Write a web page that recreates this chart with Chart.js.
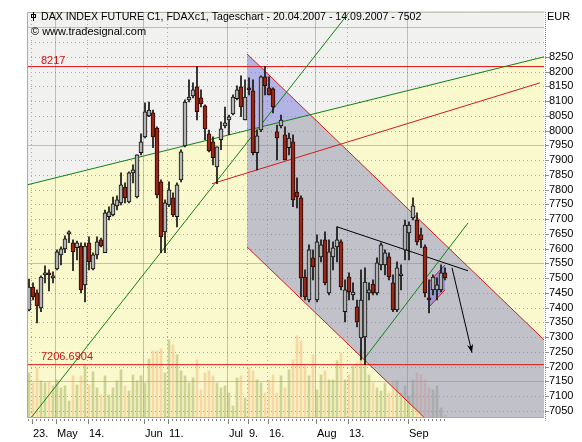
<!DOCTYPE html>
<html>
<head>
<meta charset="utf-8">
<script src="https://cdn.jsdelivr.net/npm/chart.js@4.4.0/dist/chart.umd.min.js"></script>
<style>
  html, body { margin: 0; padding: 0; background: #fff; }
  #wrap { width: 582px; height: 442px; }
</style>
</head>
<body>
<div id="wrap"><canvas id="chart" width="582" height="442"></canvas></div>
<script>
// FDAX daily, 20.04.2007 - 14.09.2007, one entry per trading day (index 0 = 20.04.)
const opens = [7392,7470,7450,7399,7511,7518,7501,7531,7579,7599, 7650,7620,7603,7609,7477,7620,7531,7579,7630,7586,
  7708,7714,7745,7755,7809,7758,7857,7775,7925,7979, 8050,8060,8009,7826,7657,7748,7772,7708,7833,7948,
  8104,8118,8148,8111,8084,7989,7962,7877,7969,8016, 8036,8057,8108,8148,8036,8145,8135,7925,8002,8182,
  8145,8142,7996,8016,7986,7942,7962,7792,7772,7504, 7426,7569,7426,7572,7630,7450,7572,7606,7623,7386,
  7504,7443,7403,7297,7301,7450,7480,7450,7545,7545, 7572,7484,7392,7508,7596,7653,7704,7697,7647,7606,
  7433,7460,7460,7460,7518];
const highs = [7497,7484,7460,7508,7542,7528,7521,7596,7606,7643, 7660,7630,7626,7620,7620,7640,7586,7640,7636,7731,
  7742,7775,7779,7857,7823,7860,7884,7918,7989,8094, 8097,8070,8013,7833,7765,7826,7789,7823,7935,8104,
  8172,8162,8217,8138,8087,8002,7979,7945,8030,8080, 8053,8121,8152,8186,8172,8179,8172,8002,8186,8217,
  8182,8145,8019,8053,8013,7992,7986,7840,7779,7528, 7613,7596,7647,7630,7657,7630,7623,7674,7630,7494,
  7518,7484,7426,7528,7535,7484,7494,7569,7620,7596, 7586,7511,7555,7545,7697,7691,7772,7721,7670,7613,
  7494,7511,7501,7545,7535];
const lows = [7389,7426,7348,7386,7484,7457,7484,7528,7545,7586, 7620,7525,7562,7450,7419,7528,7528,7565,7606,7586,
  7697,7711,7731,7748,7755,7755,7823,7772,7918,7975, 8047,7942,7772,7586,7586,7742,7708,7674,7826,7945,
  8097,8111,8036,8080,7969,7928,7884,7820,7935,8009, 7986,8053,8104,8047,8036,8121,7918,7867,7996,8121,
  8121,8060,7901,8009,7901,7918,7742,7738,7436,7426, 7419,7494,7419,7555,7477,7443,7528,7555,7460,7352,
  7426,7426,7335,7223,7207,7426,7443,7443,7528,7511, 7494,7386,7386,7460,7562,7562,7697,7613,7603,7436,
  7382,7443,7426,7453,7494];
const closes = [7470,7436,7406,7504,7518,7511,7508,7589,7599,7633, 7657,7589,7620,7460,7609,7555,7579,7623,7609,7721,
  7725,7752,7765,7816,7772,7857,7867,7918,7962,8064, 8070,7979,7782,7640,7755,7799,7714,7816,7928,8097,
  8114,8138,8064,8091,8006,7931,7908,7945,8006,8026, 8047,8114,8138,8080,8114,8138,7925,7982,8182,8152,
  8121,8080,7975,8036,7901,7975,7765,7775,7501,7436, 7596,7538,7623,7613,7484,7589,7603,7630,7470,7460,
  7453,7453,7352,7426,7487,7460,7450,7552,7613,7586, 7504,7392,7535,7514,7680,7680,7745,7623,7630,7450,
  7426,7504,7477,7518,7502];
// volume, thousand contracts
const volumes = [180,140,200,148,140,144,128,152,120,128, 68,168,132,168,212,132,184,120,92,168,
  92,120,148,192,128,108,172,148,168,140, 236,268,268,276,180,312,292,252,188,168,
  140,160,232,112,180,188,168,140,120,128, 100,48,160,168,80,200,188,152,140,100,
  152,172,100,168,120,192,232,328,308,208, 168,252,112,172,188,152,152,228,260,152,
  172,208,220,272,228,172,140,120,108,140, 100,148,148,100,128,88,152,180,172,152,
  120,112,128,40,12];

const xTickIdx = [1, 7, 15, 29, 35, 50, 55, 60, 72, 80, 95];
const xTickLabels = ["23.", "May", "14.", "Jun", "11.", "Jul", "9.", "16.", "Aug", "13.", "Sep"];
const yTicks = [7050,7100,7150,7200,7250,7300,7350,7400,7450,7500,7550,7600,7650,7700,
  7750,7800,7850,7900,7950,8000,8050,8100,8150,8200,8250];
const gridLevels = [7050,7100,7150,7200,7250,7300,7350,7400,7450,7500,7550,7600,7650,7700,
  7750,7800,7850,7900,7950,8000,8050,8100,8150,8200,8250,8300,8350];
const solidLevels = [7150, 7550, 7950, 8350];

// drawing tools: [trading day index, price]
const supportLong = [[-0.5, 7816], [128.75, 8250]];
const supportSteep = [[0.47, 7026], [80.1, 8402]];
const supportAug = [[84, 7230], [109.75, 7687]];
const resistRise = [[45.75, 7820], [127.75, 8162]];
const level8217 = 8217;
const level7206 = 7206.6904;
const channelTop = [[54.5, 8260], [128.75, 7291]];
const channelLow = [[54.5, 7606], [128.75, 6637]];
const topTriangle = [[54.5, 8260], [70.3, 8054], [54.5, 8001]];
const neckline = [[77, 7674], [109.75, 7525]];
const flagTop = [[100, 7487], [104, 7545]];
const flagLow = [[100, 7402], [104, 7460]];
const arrow = [[105.75, 7535], [110.75, 7247]];

const titleText = "DAX INDEX FUTURE C1, FDAXc1, Tageschart - 20.04.2007 - 14.09.2007 - 7502";
const FONT = "Liberation Sans";
const X_MIN = -0.5, X_MAX = 128.75;

const pts = arr => arr.map(([x, y]) => ({ x, y }));

function lineSet(data, color, order) {
  return {
    type: "line", data: pts(data), borderColor: color, borderWidth: 1,
    pointRadius: 0, fill: false, tension: 0, order, xAxisID: "x", yAxisID: "y"
  };
}

function shapeSet(data, color, order) {
  return {
    type: "line", data: pts(data), borderWidth: 0, borderColor: "rgba(0,0,0,0)",
    backgroundColor: color, pointRadius: 0, fill: "shape", tension: 0, order,
    xAxisID: "x", yAxisID: "y"
  };
}

const days = closes.map((c, i) => i);
const isUp = i => closes[i] >= opens[i];

const overlay = {
  id: "overlay",
  beforeDatasetsDraw(chart) {
    const { ctx, chartArea: a, scales: { x, y } } = chart;
    ctx.save();
    ctx.beginPath();
    ctx.rect(a.left, a.top, a.width, a.height);
    ctx.clip();

    // light grey above the long support line, pale yellow below it
    ctx.fillStyle = "#f1f1f0";
    ctx.fillRect(a.left, a.top, a.width, a.height);
    const x0 = x.getPixelForValue(supportLong[0][0]), y0 = y.getPixelForValue(supportLong[0][1]);
    const x1 = x.getPixelForValue(supportLong[1][0]), y1 = y.getPixelForValue(supportLong[1][1]);
    ctx.beginPath();
    ctx.moveTo(x0, y0);
    ctx.lineTo(x1, y1);
    ctx.lineTo(x1, a.bottom);
    ctx.lineTo(x0, a.bottom);
    ctx.closePath();
    ctx.fillStyle = "#f9f9cd";
    ctx.fill();

    // grid
    ctx.lineWidth = 1;
    gridLevels.forEach(v => {
      const py = Math.round(y.getPixelForValue(v)) + 0.5;
      const solid = solidLevels.includes(v);
      ctx.setLineDash(solid ? [] : [1, 3]);
      ctx.strokeStyle = solid ? "rgba(110,120,80,0.4)" : "#a8a8a8";
      ctx.beginPath();
      ctx.moveTo(a.left, py);
      ctx.lineTo(a.right, py);
      ctx.stroke();
    });
    xTickIdx.forEach((d, k) => {
      const px = Math.round(x.getPixelForValue(d)) - 1.5;
      const solid = /^[A-Z]/.test(xTickLabels[k]);
      ctx.setLineDash(solid ? [] : [1, 3]);
      ctx.strokeStyle = solid ? "rgba(110,120,80,0.4)" : "#a8a8a8";
      ctx.beginPath();
      ctx.moveTo(px, a.top);
      ctx.lineTo(px, a.bottom);
      ctx.stroke();
    });
    ctx.restore();
  },
  afterDatasetsDraw(chart) {
    const { ctx, chartArea: a, scales: { x, y } } = chart;
    ctx.save();
    // arrow head
    const ax0 = x.getPixelForValue(arrow[0][0]), ay0 = y.getPixelForValue(arrow[0][1]);
    const ax1 = x.getPixelForValue(arrow[1][0]), ay1 = y.getPixelForValue(arrow[1][1]);
    const ang = Math.atan2(ay1 - ay0, ax1 - ax0);
    ctx.fillStyle = "#000";
    ctx.beginPath();
    ctx.moveTo(ax1, ay1);
    ctx.lineTo(ax1 - 9 * Math.cos(ang - 0.35), ay1 - 9 * Math.sin(ang - 0.35));
    ctx.lineTo(ax1 - 6 * Math.cos(ang), ay1 - 6 * Math.sin(ang));
    ctx.lineTo(ax1 - 9 * Math.cos(ang + 0.35), ay1 - 9 * Math.sin(ang + 0.35));
    ctx.closePath();
    ctx.fill();

    // frame
    ctx.strokeStyle = "#a9ada0";
    ctx.lineWidth = 1;
    ctx.beginPath();
    ctx.moveTo(Math.round(a.right) + 0.5, a.top);
    ctx.lineTo(a.left + 0.5, a.top + 0.5);
    ctx.lineTo(a.left + 0.5, a.bottom - 0.5);
    ctx.lineTo(a.right, a.bottom - 0.5);
    ctx.stroke();

    // price axis: dotted spine and small ticks
    ctx.strokeStyle = "#8a8a8a";
    ctx.setLineDash([1, 1]);
    ctx.beginPath();
    ctx.moveTo(Math.round(a.right) + 1.5, a.top);
    ctx.lineTo(Math.round(a.right) + 1.5, a.bottom + 4);
    ctx.stroke();
    ctx.setLineDash([]);
    yTicks.forEach(v => {
      const py = Math.round(y.getPixelForValue(v)) + 0.5;
      ctx.beginPath();
      ctx.moveTo(a.right + 1, py);
      ctx.lineTo(a.right + 5, py);
      ctx.stroke();
    });

    // time axis ticks
    ctx.strokeStyle = "#808080";
    days.forEach(d => {
      const px = Math.round(x.getPixelForValue(d)) - 0.5;
      const major = xTickIdx.includes(d);
      ctx.beginPath();
      ctx.moveTo(px, a.bottom + 1);
      ctx.lineTo(px, a.bottom + (major ? 6 : 3));
      ctx.stroke();
    });

    // level labels
    ctx.fillStyle = "#d21414";
    ctx.font = "11px '" + FONT + "'";
    ctx.textBaseline = "middle";
    ctx.textAlign = "left";
    ctx.fillText(String(level8217), a.left + 14, y.getPixelForValue(level8217) - 6);
    ctx.fillText(level7206.toFixed(4), a.left + 14, y.getPixelForValue(level7206) - 8);

    // title block
    ctx.fillStyle = "#000";
    ctx.font = "10.6px '" + FONT + "'";
    ctx.fillText(titleText, a.left + 14, a.top + 5);
    ctx.font = "11px '" + FONT + "'";
    ctx.fillText("\u00a9 www.tradesignal.com", a.left + 4, a.top + 20);
    ctx.fillText("EUR", a.right + 3, a.top + 5);
    ctx.strokeStyle = "#000";
    ctx.beginPath();
    ctx.moveTo(a.left + 6.5, a.top);
    ctx.lineTo(a.left + 6.5, a.top + 9);
    ctx.stroke();
    ctx.strokeRect(a.left + 4.5, a.top + 2.5, 4, 3);
    ctx.restore();
  }
};

Chart.defaults.font.family = FONT;
Chart.defaults.font.size = 11;
Chart.defaults.color = "#000";

const channelShape = [...channelTop, ...channelLow.slice().reverse()];
const flagShape = [...flagTop, ...flagLow.slice().reverse()];

new Chart(document.getElementById("chart"), {
  type: "bar",
  data: {
    datasets: [
      {
        label: "Volume", data: days.map(i => ({ x: i, y: volumes[i] })),
        backgroundColor: days.map(i => isUp(i) ? "rgba(150,160,70,0.42)" : "rgba(245,170,105,0.42)"),
        barThickness: 2, grouped: false, order: 10, xAxisID: "x", yAxisID: "yv"
      },
      shapeSet(channelShape, "rgba(125,125,200,0.45)", 9),
      shapeSet(topTriangle, "rgba(150,150,255,0.22)", 8),
      shapeSet(flagShape, "rgba(90,90,240,0.4)", 7),
      lineSet([[X_MIN, level8217], [X_MAX, level8217]], "#dd1414", 6),
      lineSet([[X_MIN, level7206], [X_MAX, level7206]], "#dd1414", 6),
      lineSet(resistRise, "#d41c1c", 6),
      lineSet(channelTop, "#d41c1c", 6),
      lineSet(channelLow, "#d41c1c", 6),
      lineSet(flagTop, "#d41c1c", 6),
      lineSet(flagLow, "#d41c1c", 6),
      lineSet(supportLong, "#128212", 5),
      lineSet(supportSteep, "#128212", 5),
      lineSet(supportAug, "#128212", 5),
      lineSet(neckline, "#000", 5),
      lineSet(arrow, "#000", 5),
      {
        label: "Range", data: days.map(i => ({ x: i, y: [lows[i], highs[i]] })),
        backgroundColor: "#111", barThickness: 1, grouped: false, order: 2,
        xAxisID: "x", yAxisID: "y"
      },
      {
        label: "Body", data: days.map(i => ({ x: i, y: [opens[i], closes[i]] })),
        backgroundColor: days.map(i => isUp(i) ? "rgba(255,255,255,0.65)" : "#9a2616"),
        borderColor: days.map(i => isUp(i) ? "#111" : "#2a0a05"),
        borderWidth: 1, borderSkipped: false, minBarLength: 2,
        barThickness: 4, grouped: false, order: 1, xAxisID: "x", yAxisID: "y"
      }
    ]
  },
  options: {
    responsive: false,
    animation: false,
    events: [],
    layout: { padding: { left: 27, top: 12, right: 0, bottom: 0 } },
    plugins: { legend: { display: false }, tooltip: { enabled: false } },
    scales: {
      x: {
        type: "linear", position: "bottom", min: X_MIN, max: X_MAX, offset: false,
        grid: { display: false, drawTicks: false }, border: { display: false },
        afterBuildTicks: s => { s.ticks = xTickIdx.map(v => ({ value: v })); },
        afterFit: s => { s.height = 24; },
        ticks: {
          autoSkip: false, maxRotation: 0, align: "start", padding: 9,
          callback: v => xTickLabels[xTickIdx.indexOf(v)]
        }
      },
      y: {
        type: "linear", position: "right", min: 7026, max: 8402,
        grid: { display: false, drawTicks: false }, border: { display: false },
        afterBuildTicks: s => { s.ticks = yTicks.map(v => ({ value: v })); },
        afterFit: s => { s.width = 38; },
        ticks: { padding: 5, callback: v => String(v) }
      },
      yv: { type: "linear", display: false, min: 0, max: 1620 }
    }
  },
  plugins: [overlay]
});
</script>
</body>
</html>
